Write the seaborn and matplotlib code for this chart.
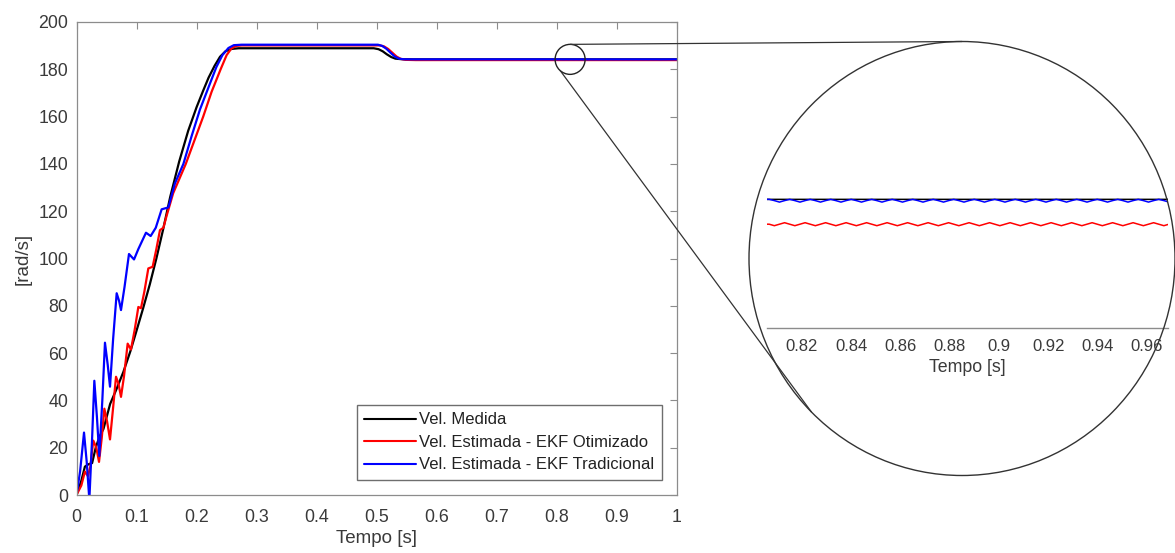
import numpy as np
import pandas as pd
import matplotlib
matplotlib.use("Agg")
import matplotlib.pyplot as plt
from matplotlib.patches import Ellipse, Circle
from matplotlib.lines import Line2D
import seaborn as sns

# ---------------- data ----------------
serie_nomes = ["Vel. Medida",
               "Vel. Estimada - EKF Otimizado",
               "Vel. Estimada - EKF Tradicional"]
cores = ["#000000", "#ff0000", "#0000ff"]

# measured speed [rad/s]
t_medida = [0.000, 0.008, 0.014, 0.020, 0.026, 0.032, 0.038, 0.045, 0.056, 0.067,
            0.078, 0.090, 0.100, 0.111, 0.122, 0.133, 0.144, 0.156, 0.171, 0.186,
            0.200, 0.211, 0.220, 0.230, 0.239, 0.248, 0.258, 0.270, 0.300,
            0.400, 0.495, 0.503, 0.510, 0.517, 0.524, 0.531, 0.540, 0.560, 0.700,
            0.850, 1.000]
v_medida = [0.0, 6.0, 12.0, 13.0, 13.5, 20.0, 24.5, 28.0, 38.5, 45.0,
            52.0, 61.0, 69.5, 79.0, 89.0, 100.0, 112.0, 126.0, 141.0, 154.0,
            164.0, 171.0, 176.5, 181.5, 185.3, 187.6, 188.6, 188.9, 188.9,
            188.9, 188.9, 188.5, 187.6, 186.3, 185.2, 184.5, 184.3, 184.2, 184.2,
            184.2, 184.2]

# optimized EKF estimate, start-up and load step
t_otimizado = [0.000, 0.008, 0.014, 0.019, 0.023, 0.028, 0.033, 0.0375, 0.042, 0.0464,
               0.051, 0.0558, 0.061, 0.0658, 0.070, 0.0741, 0.079, 0.0852, 0.0907, 0.097,
               0.103, 0.1074, 0.113, 0.1196, 0.1268, 0.133, 0.139, 0.1447, 0.150, 0.161,
               0.182, 0.195, 0.211, 0.225, 0.240, 0.250, 0.258, 0.266,
               0.275, 0.300, 0.400, 0.505, 0.512, 0.519, 0.526, 0.533, 0.540, 0.548,
               0.565, 0.700]
v_otimizado = [0.0, 4.0, 9.9, 8.0, 12.0, 23.0, 20.0, 14.0, 24.0, 36.5,
               31.0, 23.5, 37.0, 50.0, 47.0, 41.5, 50.0, 64.0, 61.5, 70.0,
               79.5, 79.0, 86.0, 95.8, 96.5, 104.0, 112.0, 113.0, 118.0, 127.6,
               140.0, 149.0, 160.0, 170.5, 180.0, 186.0, 188.8, 189.9,
               190.1, 190.1, 190.1, 190.1, 189.7, 188.6, 187.0, 185.4, 184.4, 184.0,
               183.9, 183.9]

# traditional EKF estimate, start-up and load step
t_tradicional = [0.000, 0.006, 0.0125, 0.017, 0.0214, 0.026, 0.0297, 0.034, 0.038, 0.043,
                 0.0474, 0.052, 0.0558, 0.061, 0.0669, 0.071, 0.0741, 0.080, 0.0874, 0.0958,
                 0.103, 0.1157, 0.1235, 0.132, 0.1418, 0.153, 0.164, 0.178, 0.192, 0.2056,
                 0.2223, 0.233, 0.243, 0.253, 0.262, 0.275, 0.300, 0.400, 0.502,
                 0.509, 0.516, 0.523, 0.530, 0.537, 0.545, 0.560, 0.700]
v_tradicional = [0.0, 10.0, 26.4, 14.0, -2.0, 24.0, 48.3, 33.0, 16.5, 40.0,
                 64.4, 55.0, 45.8, 66.0, 85.3, 82.0, 78.2, 88.0, 101.9, 99.6,
                 104.0, 110.9, 109.5, 113.0, 120.8, 121.6, 131.8, 140.0, 152.0, 163.0,
                 174.0, 181.0, 186.0, 189.0, 190.2, 190.4, 190.4, 190.4, 190.4,
                 189.9, 188.7, 187.0, 185.4, 184.5, 184.25, 184.2, 184.2]

# steady-state ripple, 0.8068 s .. 0.969 s (uniform sampling)
t_janela = np.linspace(0.8068, 0.9690, 79)
v_otimizado_janela = [
    183.900, 183.882, 183.900, 183.918, 183.900, 183.882, 183.900, 183.918,
    183.900, 183.882, 183.900, 183.918, 183.900, 183.882, 183.900, 183.918,
    183.900, 183.882, 183.900, 183.918, 183.900, 183.882, 183.900, 183.918,
    183.900, 183.882, 183.900, 183.918, 183.900, 183.882, 183.900, 183.918,
    183.900, 183.882, 183.900, 183.918, 183.900, 183.882, 183.900, 183.918,
    183.900, 183.882, 183.900, 183.918, 183.900, 183.882, 183.900, 183.918,
    183.900, 183.882, 183.900, 183.918, 183.900, 183.882, 183.900, 183.918,
    183.900, 183.882, 183.900, 183.918, 183.900, 183.882, 183.900, 183.918,
    183.900, 183.882, 183.900, 183.918, 183.900, 183.882, 183.900, 183.918,
    183.900, 183.882, 183.900, 183.918, 183.900, 183.882, 183.900]
v_tradicional_janela = [
    184.200, 184.185, 184.167, 184.185, 184.200, 184.185, 184.167, 184.185,
    184.200, 184.185, 184.167, 184.185, 184.200, 184.185, 184.167, 184.185,
    184.200, 184.185, 184.167, 184.185, 184.200, 184.185, 184.167, 184.185,
    184.200, 184.185, 184.167, 184.185, 184.200, 184.185, 184.167, 184.185,
    184.200, 184.185, 184.167, 184.185, 184.200, 184.185, 184.167, 184.185,
    184.200, 184.185, 184.167, 184.185, 184.200, 184.185, 184.167, 184.185,
    184.200, 184.185, 184.167, 184.185, 184.200, 184.185, 184.167, 184.185,
    184.200, 184.185, 184.167, 184.185, 184.200, 184.185, 184.167, 184.185,
    184.200, 184.185, 184.167, 184.185, 184.200, 184.185, 184.167, 184.185,
    184.200, 184.185, 184.167, 184.185, 184.200, 184.185, 184.167]

x_ticks = [0, 0.1, 0.2, 0.3, 0.4, 0.5, 0.6, 0.7, 0.8, 0.9, 1]
x_ticklabels = ["0", "0.1", "0.2", "0.3", "0.4", "0.5", "0.6", "0.7", "0.8", "0.9", "1"]
y_ticks = [0, 20, 40, 60, 80, 100, 120, 140, 160, 180, 200]
zoom_ticks = [0.82, 0.84, 0.86, 0.88, 0.90, 0.92, 0.94, 0.96]
zoom_ticklabels = ["0.82", "0.84", "0.86", "0.88", "0.9", "0.92", "0.94", "0.96"]

# ---------------- long-form table ----------------
partes = [
    pd.DataFrame({"t": t_medida, "v": v_medida, "serie": serie_nomes[0]}),
    pd.DataFrame({"t": list(t_otimizado) + list(t_janela) + [1.0],
                  "v": list(v_otimizado) + v_otimizado_janela + [183.9],
                  "serie": serie_nomes[1]}),
    pd.DataFrame({"t": list(t_tradicional) + list(t_janela) + [1.0],
                  "v": list(v_tradicional) + v_tradicional_janela + [184.2],
                  "serie": serie_nomes[2]}),
]
df = pd.concat(partes, ignore_index=True)

# ---------------- style ----------------
sns.set_theme(style="white")
plt.rcParams["font.family"] = ["Liberation Sans", "DejaVu Sans"]
cinza = "#8c8c8c"
texto = "#3a3a3a"

W, H = 1175, 553
fig = plt.figure(figsize=(W / 100, H / 100), dpi=100)

# main axes
ax = fig.add_axes([76.5 / W, (H - 495) / H, 600.5 / W, 473 / H])
sns.lineplot(data=df, x="t", y="v", hue="serie", hue_order=serie_nomes,
             palette=cores, estimator=None, sort=False, linewidth=1.6,
             legend=False, ax=ax)
ax.set_xlim(0, 1)
ax.set_ylim(0, 200)
ax.set_xticks(x_ticks)
ax.set_xticklabels(x_ticklabels)
ax.set_yticks(y_ticks)
ax.set_xlabel("Tempo [s]", fontsize=13.5, color=texto, labelpad=3)
ax.set_ylabel("[rad/s]", fontsize=13.5, color=texto, labelpad=5)
ax.tick_params(axis="both", direction="in", length=5, width=0.8, color=cinza,
               labelcolor=texto, labelsize=12.8, top=True, right=True)
ax.tick_params(axis="x", pad=10)
ax.tick_params(axis="y", pad=6)
for s in ax.spines.values():
    s.set_visible(True)
    s.set_color(cinza)
    s.set_linewidth(0.9)

handles = [Line2D([], [], color=c, lw=1.5) for c in cores]
leg = ax.legend(handles, serie_nomes, loc="lower right",
                bbox_to_anchor=(0.975, 0.032), borderaxespad=0,
                fontsize=12, frameon=True, fancybox=False, framealpha=1,
                edgecolor="#6e6e6e", handlelength=3.1, handletextpad=0.2,
                labelspacing=0.45, borderpad=0.45)
leg.get_frame().set_linewidth(1.0)
for txt in leg.get_texts():
    txt.set_color("#222222")

# magnified view of the steady-state ripple
ax_in = fig.add_axes([767 / W, (H - 327.7) / H, 401 / W, 227.7 / H])
ax_in.patch.set_alpha(0)
sns.lineplot(data=df, x="t", y="v", hue="serie", hue_order=serie_nomes,
             palette=cores, estimator=None, sort=False, linewidth=1.1,
             legend=False, ax=ax_in)
ax_in.set_xlim(0.8059, 0.9686)
ax_in.set_ylim(182.65, 185.40)
ax_in.set_xticks(zoom_ticks)
ax_in.set_xticklabels(zoom_ticklabels)
ax_in.set_yticks([])
ax_in.set_ylabel("")
ax_in.set_xlabel("Tempo [s]", fontsize=12.8, color=texto, labelpad=4)
ax_in.tick_params(axis="x", direction="in", length=4, width=0.8, color=cinza,
                  labelcolor=texto, labelsize=12, pad=8)
for k in ("left", "right", "top"):
    ax_in.spines[k].set_visible(False)
ax_in.spines["bottom"].set_color(cinza)
ax_in.spines["bottom"].set_linewidth(1.0)

# overlay in pixel units for the magnifier circles and their connectors
fig.canvas.draw()
ov = fig.add_axes([0, 0, 1, 1], zorder=5)
ov.set_xlim(0, W)
ov.set_ylim(0, H)
ov.axis("off")
ov.patch.set_alpha(0)

cx_s, cy_s = ax.transData.transform((0.822, 184.2))
r_s = 15
ov.add_patch(Circle((cx_s, cy_s), r_s, fill=False, ec="#222222", lw=1.0))

cx_b, cy_b = 962, H - 258.5
w_b, h_b = 426, 434
ov.add_patch(Ellipse((cx_b, cy_b), w_b, h_b, fill=False, ec="#333333", lw=1.0,
                     clip_on=False))

def on_small(ang):
    a = np.deg2rad(ang)
    return cx_s + r_s * np.cos(a), cy_s + r_s * np.sin(a)

def on_big(ang):
    a = np.deg2rad(ang)
    return cx_b + w_b / 2 * np.cos(a), cy_b + h_b / 2 * np.sin(a)

for a_s, a_b in ((90, 90), (229, 225)):
    p1, p2 = on_small(a_s), on_big(a_b)
    ov.plot([p1[0], p2[0]], [p1[1], p2[1]], color="#333333", lw=0.9)

fig.savefig("out.png", dpi=100)
